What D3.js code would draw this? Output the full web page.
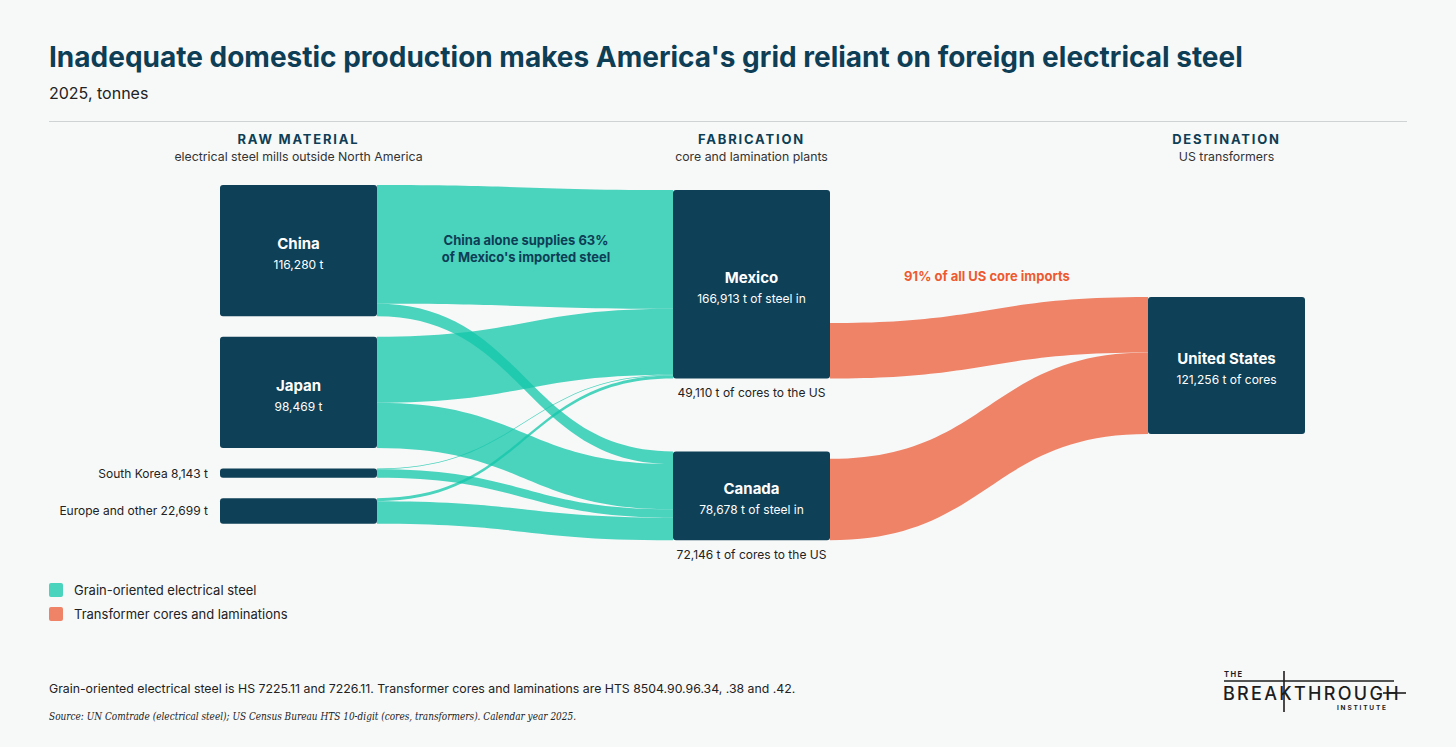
<!DOCTYPE html>
<html>
<head>
<meta charset="utf-8">
<script src="https://cdn.jsdelivr.net/npm/d3@7"></script>
<style>
  html, body { margin: 0; padding: 0; background: #f7f9f9; }
  svg { display: block; }
  text { font-family: Inter, "Open Sans", sans-serif; }
</style>
</head>
<body>
<div id="chart"></div>
<script>
// data, tonnes, 2025
const sources = ["China", "Japan", "South Korea", "Europe and other"];
const sourceTotals = [116280, 98469, 8143, 22699];
const fabricators = ["Mexico", "Canada"];
const fabSteelIn = [166913, 78678];
const toMexico = [105155, 58400, 650, 2708];
const toCanada = [11125, 40069, 7493, 19991];
const coresToUS = [49110, 72146];
const destination = "United States";
const usCores = 121256;

const columns = ["RAW MATERIAL", "FABRICATION", "DESTINATION"];
const columnSubs = ["electrical steel mills outside North America", "core and lamination plants", "US transformers"];

const w = 1456;
const h = 747;
const nodeW = 157;
const teal = "#14c6aa";
const orange = "#ef8368";
const navy = "#0e4057";
const ink = "#0e3e55";
const fmt = d3.format(",");

const svg = d3.select("#chart")
  .append("svg")
    .attr("width", w)
    .attr("height", h);

svg.append("rect")
  .attr("width", w)
  .attr("height", h)
  .attr("fill", "#f7f9f9");

// scales
const xCol = d3.scaleOrdinal().domain([0, 1, 2]).range([220, 673, 1148]);
const tonnes = d3.scaleLinear().domain([0, 100000]).range([0, 112.9]);

// stack nodes in each column
const colTop = [185, 190, 297];
const colGap = [20.5, 73, 0];
function stack(values, col) {
  let y = colTop[col];
  return values.map(v => {
    const n = {y0: y, y1: y + tonnes(v), x0: xCol(col), x1: xCol(col) + nodeW};
    y = n.y1 + colGap[col];
    return n;
  });
}
const srcNodes = stack(sourceTotals, 0);
const fabNodes = stack(fabSteelIn, 1);
const usNode = stack([usCores], 2)[0];

function ribbon(x0, y0, x1, y1, th) {
  const xm = (x0 + x1) / 2;
  return `M${x0},${y0}C${xm},${y0} ${xm},${y1} ${x1},${y1}` +
    `L${x1},${y1 + th}C${xm},${y1 + th} ${xm},${y0 + th} ${x0},${y0 + th}Z`;
}

// steel links: source -> Mexico / Canada
const steelLinks = [];
const fabOffset = fabNodes.map(n => n.y0);
sources.forEach((s, i) => {
  let sy = srcNodes[i].y0;
  [toMexico[i], toCanada[i]].forEach((v, j) => {
    const th = tonnes(v);
    steelLinks.push({s: i, t: j, v: v, sy: sy, ty: null, th: th});
    sy += th;
  });
});
// target side follows source order
[0, 1].forEach(j => {
  steelLinks.filter(l => l.t === j).forEach(l => {
    l.ty = fabOffset[j];
    fabOffset[j] += l.th;
  });
});

const g = svg.append("g");

g.selectAll("path.steel")
  .data(steelLinks)
  .enter()
  .append("path")
    .attr("class", "steel")
    .attr("d", d => ribbon(srcNodes[d.s].x1, d.sy, fabNodes[d.t].x0, d.ty, d.th))
    .attr("fill", teal)
    .attr("fill-opacity", 0.76);

// core links: Mexico / Canada -> US, leaving from bottom of fab node
let usY = usNode.y0;
const coreLinks = coresToUS.map((v, j) => {
  const th = tonnes(v);
  const l = {t: j, th: th, sy: fabNodes[j].y1 - th, ty: usY};
  usY += th;
  return l;
});

g.selectAll("path.core")
  .data(coreLinks)
  .enter()
  .append("path")
    .attr("class", "core")
    .attr("d", d => ribbon(fabNodes[d.t].x1, d.sy, usNode.x0, d.ty, d.th))
    .attr("fill", orange);

// nodes
const allNodes = srcNodes.concat(fabNodes, [usNode]);
g.selectAll("rect.node")
  .data(allNodes)
  .enter()
  .append("rect")
    .attr("class", "node")
    .attr("x", d => d.x0)
    .attr("y", d => d.y0)
    .attr("width", nodeW)
    .attr("height", d => d.y1 - d.y0)
    .attr("rx", 3)
    .attr("fill", navy);

// labels inside the big nodes
const inner = [
  {n: srcNodes[0], name: sources[0], sub: fmt(sourceTotals[0]) + " t"},
  {n: srcNodes[1], name: sources[1], sub: fmt(sourceTotals[1]) + " t"},
  {n: fabNodes[0], name: fabricators[0], sub: fmt(fabSteelIn[0]) + " t of steel in"},
  {n: fabNodes[1], name: fabricators[1], sub: fmt(fabSteelIn[1]) + " t of steel in"},
  {n: usNode, name: destination, sub: fmt(usCores) + " t of cores"}
];
inner.forEach(d => {
  const cx = (d.n.x0 + d.n.x1) / 2;
  const cy = (d.n.y0 + d.n.y1) / 2;
  g.append("text")
    .attr("x", cx).attr("y", cy - 1.5)
    .attr("text-anchor", "middle")
    .attr("fill", "#fff")
    .attr("font-size", 15).attr("font-weight", 700)
    .text(d.name);
  g.append("text")
    .attr("x", cx).attr("y", cy + 18.5)
    .attr("text-anchor", "middle")
    .attr("fill", "#fff")
    .attr("font-size", 12)
    .text(d.sub);
});

// small source labels on the left
[2, 3].forEach(i => {
  g.append("text")
    .attr("x", srcNodes[i].x0 - 12)
    .attr("y", (srcNodes[i].y0 + srcNodes[i].y1) / 2 + 4.5)
    .attr("text-anchor", "end")
    .attr("fill", "#222")
    .attr("font-size", 12)
    .text(`${sources[i]} ${fmt(sourceTotals[i])} t`);
});

// cores out labels
fabNodes.forEach((n, j) => {
  g.append("text")
    .attr("x", (n.x0 + n.x1) / 2)
    .attr("y", n.y1 + 19)
    .attr("text-anchor", "middle")
    .attr("fill", "#222")
    .attr("font-size", 12)
    .text(`${fmt(coresToUS[j])} t of cores to the US`);
});

// annotations
g.append("text")
  .attr("x", 526).attr("y", 245)
  .attr("text-anchor", "middle")
  .attr("fill", ink)
  .attr("font-size", 13).attr("font-weight", 700)
  .selectAll("tspan")
  .data(["China alone supplies 63%", "of Mexico's imported steel"])
  .enter()
  .append("tspan")
    .attr("x", 526)
    .attr("dy", (d, i) => i ? 17 : 0)
    .text(d => d);

g.append("text")
  .attr("x", 987).attr("y", 281)
  .attr("text-anchor", "middle")
  .attr("fill", "#ee5a30")
  .attr("font-size", 13).attr("font-weight", 700)
  .text("91% of all US core imports");

// column headers
columns.forEach((c, i) => {
  const cx = xCol(i) + nodeW / 2;
  svg.append("text")
    .attr("x", cx).attr("y", 144)
    .attr("text-anchor", "middle")
    .attr("fill", ink)
    .attr("font-size", 13).attr("font-weight", 700)
    .attr("letter-spacing", 1.8)
    .text(c);
  svg.append("text")
    .attr("x", cx).attr("y", 161)
    .attr("text-anchor", "middle")
    .attr("fill", "#333")
    .attr("font-size", 12.3)
    .text(columnSubs[i]);
});

// title block
svg.append("text")
  .attr("x", 49).attr("y", 67)
  .attr("fill", ink)
  .attr("font-size", 28).attr("font-weight", 700)
  .text("Inadequate domestic production makes America's grid reliant on foreign electrical steel");

svg.append("text")
  .attr("x", 49).attr("y", 99)
  .attr("fill", "#222")
  .attr("font-size", 16)
  .text("2025, tonnes");

svg.append("line")
  .attr("x1", 49).attr("x2", 1407)
  .attr("y1", 121.5).attr("y2", 121.5)
  .attr("stroke", "#d0d3d4")
  .attr("stroke-width", 1.2);

// legend
const legend = [
  {label: "Grain-oriented electrical steel", color: teal, op: 0.76},
  {label: "Transformer cores and laminations", color: orange, op: 1}
];
const lg = svg.selectAll("g.legend")
  .data(legend)
  .enter()
  .append("g")
    .attr("class", "legend")
    .attr("transform", (d, i) => `translate(49, ${583 + i * 24})`);
lg.append("rect")
  .attr("width", 14).attr("height", 14).attr("rx", 2)
  .attr("fill", d => d.color)
  .attr("fill-opacity", d => d.op);
lg.append("text")
  .attr("x", 25).attr("y", 12)
  .attr("fill", "#222")
  .attr("font-size", 13)
  .text(d => d.label);

// notes
svg.append("text")
  .attr("x", 49).attr("y", 693)
  .attr("fill", "#222")
  .attr("font-size", 12.3)
  .text("Grain-oriented electrical steel is HS 7225.11 and 7226.11. Transformer cores and laminations are HTS 8504.90.96.34, .38 and .42.");

svg.append("text")
  .attr("x", 49).attr("y", 720)
  .attr("fill", "#222")
  .attr("font-size", 11.5)
  .attr("font-style", "italic")
  .style("font-family", "'DejaVu Serif', serif")
  .attr("textLength", 527)
  .attr("lengthAdjust", "spacingAndGlyphs")
  .text("Source: UN Comtrade (electrical steel); US Census Bureau HTS 10-digit (cores, transformers). Calendar year 2025.");

// logo
const logo = svg.append("g").attr("fill", "#1d1d1d");
logo.append("text")
  .attr("x", 1224).attr("y", 677)
  .attr("font-size", 7.5).attr("font-weight", 700)
  .attr("letter-spacing", 1.5)
  .text("THE");
logo.append("text")
  .attr("x", 1223).attr("y", 700)
  .attr("font-size", 18).attr("font-weight", 500)
  .attr("letter-spacing", 2.3)
  .text("BREAKTHROUGH");
logo.append("text")
  .attr("x", 1337).attr("y", 709.5)
  .attr("font-size", 6.5).attr("font-weight", 700)
  .attr("letter-spacing", 1.8)
  .text("INSTITUTE");
logo.append("line")
  .attr("x1", 1224).attr("x2", 1394)
  .attr("y1", 681).attr("y2", 681)
  .attr("stroke", "#1d1d1d").attr("stroke-width", 1.3);
logo.append("line")
  .attr("x1", 1284).attr("x2", 1284)
  .attr("y1", 671).attr("y2", 712)
  .attr("stroke", "#1d1d1d").attr("stroke-width", 1.6);
logo.append("line")
  .attr("x1", 1383).attr("x2", 1406)
  .attr("y1", 693).attr("y2", 693)
  .attr("stroke", "#1d1d1d").attr("stroke-width", 1.6);
</script>
</body>
</html>
